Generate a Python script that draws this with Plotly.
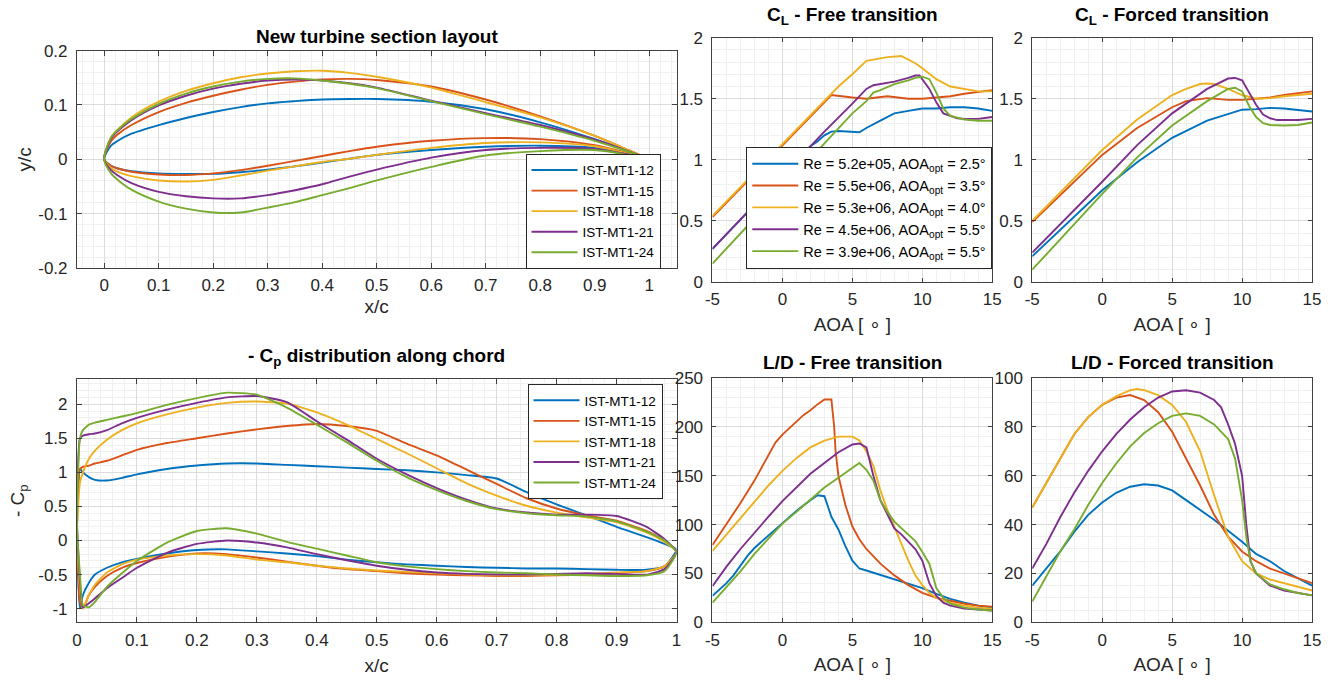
import plotly.graph_objects as go

# ---------------- common ----------------
colors = ['#0072BD', '#D95319', '#EDB120', '#7E2F8E', '#77AC30']
section_names = ['IST-MT1-12', 'IST-MT1-15', 'IST-MT1-18', 'IST-MT1-21', 'IST-MT1-24']
cl_legend = ['Re = 5.2e+05, AOA<sub>opt</sub> = 2.5°',
             'Re = 5.5e+06, AOA<sub>opt</sub> = 3.5°',
             'Re = 5.3e+06, AOA<sub>opt</sub> = 4.0°',
             'Re = 4.5e+06, AOA<sub>opt</sub> = 5.5°',
             'Re = 3.9e+06, AOA<sub>opt</sub> = 5.5°']

# ---------------- airfoil geometry ----------------
af_x = [0, 0.0125, 0.025, 0.05, 0.1, 0.15, 0.2, 0.25, 0.3, 0.35, 0.4, 0.45, 0.5, 0.6, 0.7, 0.8, 0.9, 0.95, 1.0]
af_up_12 = [0, 0.025, 0.034, 0.047, 0.063, 0.076, 0.087, 0.096, 0.103, 0.107, 0.110, 0.111, 0.111, 0.106, 0.092, 0.068, 0.037, 0.019, 0]
af_lo_12 = [0, -0.012, -0.017, -0.022, -0.026, -0.027, -0.027, -0.024, -0.019, -0.013, -0.006, 0.001, 0.008, 0.017, 0.023, 0.025, 0.021, 0.013, 0]
af_up_15 = [0, 0.033, 0.046, 0.063, 0.087, 0.104, 0.117, 0.128, 0.137, 0.143, 0.147, 0.148, 0.146, 0.134, 0.110, 0.079, 0.043, 0.022, 0]
af_lo_15 = [0, -0.012, -0.017, -0.023, -0.028, -0.029, -0.026, -0.020, -0.012, -0.003, 0.006, 0.015, 0.023, 0.034, 0.039, 0.037, 0.026, 0.014, 0]
af_up_18 = [0, 0.040, 0.055, 0.077, 0.106, 0.126, 0.140, 0.151, 0.158, 0.162, 0.163, 0.159, 0.152, 0.132, 0.105, 0.077, 0.043, 0.022, 0]
af_lo_18 = [0, -0.016, -0.023, -0.031, -0.039, -0.041, -0.038, -0.030, -0.021, -0.013, -0.005, 0.001, 0.008, 0.021, 0.030, 0.031, 0.024, 0.013, 0]
af_up_21 = [0, 0.038, 0.052, 0.072, 0.099, 0.117, 0.130, 0.139, 0.145, 0.147, 0.145, 0.140, 0.132, 0.108, 0.085, 0.063, 0.036, 0.019, 0]
af_lo_21 = [0, -0.020, -0.030, -0.044, -0.060, -0.068, -0.072, -0.072, -0.066, -0.057, -0.046, -0.032, -0.019, 0.003, 0.017, 0.021, 0.019, 0.011, 0]
af_up_24 = [0, 0.040, 0.054, 0.074, 0.102, 0.121, 0.134, 0.143, 0.148, 0.149, 0.145, 0.139, 0.131, 0.107, 0.083, 0.060, 0.034, 0.018, 0]
af_lo_24 = [0, -0.026, -0.038, -0.056, -0.078, -0.091, -0.098, -0.098, -0.089, -0.079, -0.066, -0.053, -0.039, -0.014, 0.007, 0.015, 0.017, 0.010, 0]

# ---------------- -Cp distribution ----------------
cp_x = [0, 0.005, 0.01, 0.02, 0.03, 0.05, 0.075, 0.1, 0.15, 0.2, 0.25, 0.3, 0.35, 0.4, 0.45,
        0.5, 0.55, 0.6, 0.65, 0.7, 0.75, 0.8, 0.85, 0.9, 0.95, 0.98, 1.0]
cp_up_12 = [0.1, 1.05, 1.0, 0.93, 0.89, 0.88, 0.92, 0.97, 1.05, 1.1, 1.13, 1.13, 1.11, 1.09, 1.07,
            1.05, 1.03, 1.0, 0.96, 0.91, 0.71, 0.53, 0.37, 0.2, 0.05, -0.05, -0.13]
cp_lo_12 = [0.1, -1.0, -0.8, -0.62, -0.5, -0.4, -0.32, -0.27, -0.19, -0.14, -0.13, -0.16, -0.19, -0.23, -0.28,
            -0.32, -0.35, -0.37, -0.39, -0.4, -0.41, -0.41, -0.42, -0.43, -0.43, -0.38, -0.13]
cp_up_15 = [0.1, 1.05, 1.08, 1.1, 1.13, 1.17, 1.25, 1.33, 1.43, 1.5, 1.57, 1.63, 1.68, 1.71, 1.68,
            1.61, 1.42, 1.25, 1.04, 0.83, 0.62, 0.47, 0.37, 0.29, 0.14, 0.0, -0.17]
cp_lo_15 = [0.1, -0.9, -1.0, -0.8, -0.68, -0.52, -0.4, -0.33, -0.24, -0.19, -0.2, -0.25, -0.31, -0.37, -0.42,
            -0.45, -0.48, -0.5, -0.51, -0.52, -0.52, -0.51, -0.5, -0.48, -0.45, -0.38, -0.17]
cp_up_18 = [0.1, 0.85, 1.0, 1.2, 1.32, 1.48, 1.62, 1.72, 1.85, 1.95, 2.02, 2.04, 2.01, 1.88, 1.7,
            1.49, 1.28, 1.06, 0.84, 0.66, 0.51, 0.41, 0.34, 0.27, 0.12, -0.02, -0.17]
cp_lo_18 = [0.1, -0.7, -1.0, -0.8, -0.65, -0.47, -0.35, -0.28, -0.22, -0.2, -0.22, -0.28, -0.32, -0.37, -0.41,
            -0.44, -0.46, -0.48, -0.5, -0.51, -0.51, -0.5, -0.49, -0.47, -0.45, -0.38, -0.17]
cp_up_21 = [0.3, 1.5, 1.54, 1.56, 1.57, 1.62, 1.72, 1.8, 1.92, 2.02, 2.1, 2.12, 2.03, 1.75, 1.48,
            1.2, 0.97, 0.77, 0.6, 0.47, 0.41, 0.38, 0.38, 0.36, 0.2, 0.02, -0.17]
cp_lo_21 = [0.3, -0.6, -0.98, -0.92, -0.85, -0.7, -0.55, -0.4, -0.18, -0.05, 0.0, -0.03, -0.1, -0.2, -0.29,
            -0.37, -0.43, -0.47, -0.49, -0.5, -0.5, -0.49, -0.48, -0.49, -0.5, -0.42, -0.17]
cp_up_24 = [0.3, 1.5, 1.62, 1.7, 1.73, 1.77, 1.82, 1.87, 1.99, 2.09, 2.17, 2.14, 1.95, 1.7, 1.44,
            1.17, 0.93, 0.74, 0.58, 0.46, 0.4, 0.37, 0.35, 0.28, 0.13, 0.0, -0.17]
cp_lo_24 = [0.3, -0.5, -0.95, -0.98, -0.9, -0.68, -0.48, -0.3, -0.03, 0.14, 0.18, 0.1, -0.02, -0.12, -0.22,
            -0.32, -0.38, -0.42, -0.45, -0.47, -0.48, -0.5, -0.51, -0.52, -0.51, -0.45, -0.17]

# ---------------- CL free transition ----------------
clf_a_12 = [-5, 2, 2.5, 3, 3.5, 4, 5.5, 6, 7, 8, 9, 10, 11, 12, 13, 14, 15]
clf_v_12 = [0.27, 1.11, 1.15, 1.2, 1.23, 1.235, 1.225, 1.26, 1.32, 1.38, 1.4, 1.42, 1.42, 1.43, 1.43, 1.42, 1.4]
clf_a_15 = [-5, 3.5, 5, 6, 7.5, 9, 10, 11, 12, 13, 15]
clf_v_15 = [0.53, 1.53, 1.51, 1.5, 1.52, 1.5, 1.5, 1.51, 1.52, 1.54, 1.57]
clf_a_18 = [-5, 3.5, 4, 5, 6, 6.5, 7, 7.5, 8.5, 9, 9.5, 10, 11, 12, 13, 14, 15]
clf_v_18 = [0.54, 1.54, 1.6, 1.7, 1.81, 1.82, 1.83, 1.84, 1.85, 1.82, 1.79, 1.75, 1.66, 1.6, 1.58, 1.56, 1.56]
clf_a_21 = [-5, 3, 5, 6, 6.5, 7, 8, 9, 9.5, 9.8, 10.5, 11, 11.5, 12.5, 13, 14, 15]
clf_v_21 = [0.27, 1.23, 1.46, 1.58, 1.61, 1.62, 1.64, 1.67, 1.69, 1.69, 1.58, 1.47, 1.38, 1.34, 1.335, 1.335, 1.35]
clf_a_24 = [-5, 3, 5, 6, 6.5, 7, 8, 9, 9.5, 10, 10.5, 11, 11.5, 12, 13, 14, 15]
clf_v_24 = [0.15, 1.13, 1.38, 1.48, 1.55, 1.57, 1.62, 1.65, 1.67, 1.68, 1.66, 1.55, 1.42, 1.36, 1.33, 1.32, 1.32]

# ---------------- CL forced transition ----------------
clt_a_12 = [-5, 0, 2.5, 5, 7.5, 10, 11, 12, 13, 14, 15]
clt_v_12 = [0.21, 0.75, 0.98, 1.18, 1.32, 1.41, 1.415, 1.425, 1.42, 1.41, 1.395]
clt_a_15 = [-5, 0, 2.5, 5, 6, 7.5, 9, 10, 11, 12, 13, 15]
clt_v_15 = [0.49, 1.04, 1.26, 1.43, 1.48, 1.505, 1.49, 1.49, 1.5, 1.51, 1.53, 1.56]
clt_a_18 = [-5, 0, 2.5, 5, 6, 7, 7.5, 8, 9, 10, 11, 12, 13, 15]
clt_v_18 = [0.5, 1.08, 1.33, 1.53, 1.58, 1.62, 1.625, 1.62, 1.58, 1.53, 1.5, 1.505, 1.52, 1.54]
clt_a_21 = [-5, 0, 2.5, 5, 7.5, 9, 9.5, 10, 10.5, 11, 11.5, 12, 12.5, 14, 15]
clt_v_21 = [0.24, 0.82, 1.12, 1.38, 1.58, 1.665, 1.67, 1.65, 1.55, 1.45, 1.37, 1.34, 1.325, 1.325, 1.335]
clt_a_24 = [-5, 0, 2.5, 5, 7.5, 9, 9.5, 10, 10.5, 11, 11.5, 12, 13, 14, 15]
clt_v_24 = [0.1, 0.72, 1.02, 1.28, 1.48, 1.58, 1.59, 1.56, 1.44, 1.35, 1.3, 1.285, 1.28, 1.285, 1.305]

# ---------------- L/D free transition ----------------
ldf_a_12 = [-5, -4, -3.5, -3, -2.5, -2, -1, 0, 1, 2, 2.5, 3, 3.25, 3.5, 4, 4.5, 5, 5.5, 6, 8, 10, 11, 12, 13, 14, 15]
ldf_v_12 = [27, 40, 48, 58, 68, 76, 89, 102, 114, 125, 130, 129, 118, 108, 95, 78, 63, 55, 53, 44, 35, 29, 24, 20, 17, 15]
ldf_a_15 = [-5, -4, -3, -2, -1, -0.5, 0, 1, 1.5, 2, 2.5, 3, 3.5, 3.7, 3.8, 4, 4.5, 5, 5.5, 6, 7, 8, 9, 10, 11, 12, 13, 14, 15]
ldf_v_15 = [79, 100, 122, 145, 172, 184, 192, 205, 212, 217, 223, 228, 228, 200, 175, 150, 120, 98, 85, 75, 60, 48, 38, 30, 25, 22, 19, 17, 16]
ldf_a_18 = [-5, -4, -3, -2, -1, 0, 1, 2, 3, 4, 5, 5.5, 6, 6.5, 7, 7.5, 8, 8.5, 9, 9.5, 10, 10.5, 11, 12, 13, 14, 15]
ldf_v_18 = [73, 90, 107, 124, 140, 155, 168, 179, 186, 190, 190, 186, 175, 160, 135, 115, 97, 80, 63, 48, 38, 30, 25, 20, 17, 15, 14]
ldf_a_21 = [-5, -4, -3, -2, -1, 0, 1, 2, 3, 4, 5, 5.5, 6, 6.5, 7, 7.5, 8, 8.5, 9, 9.5, 10, 10.5, 11, 11.5, 12, 13, 14, 15]
ldf_v_21 = [37, 57, 75, 92, 108, 124, 138, 152, 163, 174, 182, 183, 179, 150, 125, 110, 96, 90, 83, 75, 63, 40, 27, 20, 17, 14, 13, 12]
ldf_a_24 = [-5, -4, -3, -2, -1, 0, 1, 2, 3, 4, 5, 5.5, 6, 6.5, 7, 7.5, 8, 8.5, 9, 9.5, 10, 10.5, 11, 11.5, 12, 13, 14, 15]
ldf_v_24 = [20, 36, 52, 70, 86, 101, 113, 125, 138, 148, 158, 163, 156, 145, 125, 113, 103, 96, 90, 83, 72, 60, 35, 25, 19, 15, 13, 12]

# ---------------- L/D forced transition ----------------
ldt_a = [-5, -4, -3, -2, -1, 0, 1, 2, 3, 4, 5, 6, 7, 8, 9, 10, 11, 12, 13, 14, 15]
ldt_v_12 = [15, 22, 29, 37, 44, 49, 53, 55.5, 56.5, 56, 54, 50, 46, 42, 37.5, 33, 28, 25, 21, 18, 15]
ldt_v_15 = [47, 57, 67, 77, 84, 89, 92, 93, 91, 86, 78, 67, 56, 44, 35, 29, 25, 22, 20, 18, 16]
ldt_a_18 = [-5, -4, -3, -2, -1, 0, 1, 2, 2.5, 3, 4, 5, 6, 7, 8, 9, 10, 11, 12, 13, 14, 15]
ldt_v_18 = [47, 57, 67, 77, 84, 89, 92.5, 95, 95.5, 95, 93, 89, 82, 70, 52, 35, 25, 20, 17.5, 16, 14.5, 13]
ldt_a_21 = [-5, -4, -3, -2, -1, 0, 1, 2, 3, 4, 5, 6, 7, 8, 8.5, 9, 9.5, 10, 10.3, 10.6, 11, 12, 13, 14, 15]
ldt_v_21 = [22, 32, 43, 53, 62, 70, 77, 83, 88, 92, 94.5, 95, 94, 91, 88, 81, 73, 60, 40, 25, 20, 15, 13, 12, 11]
ldt_a_24 = [-5, -4, -3, -2, -1, 0, 1, 2, 3, 4, 5, 6, 7, 8, 9, 9.5, 10, 10.3, 10.6, 11, 12, 13, 14, 15]
ldt_v_24 = [8.5, 19, 29, 38, 48, 57, 65, 72, 77.5, 81.5, 84.5, 85.5, 84.5, 81, 75, 67, 50, 35, 25, 20, 15.5, 13.5, 12, 11]

# ---------------- tick labels ----------------
xc_ticks = [0, 0.1, 0.2, 0.3, 0.4, 0.5, 0.6, 0.7, 0.8, 0.9, 1]
xc_text = ['0', '0.1', '0.2', '0.3', '0.4', '0.5', '0.6', '0.7', '0.8', '0.9', '1']
yc_ticks = [-0.2, -0.1, 0, 0.1, 0.2]
yc_text = ['-0.2', '-0.1', '0', '0.1', '0.2']
cp_ticks = [-1, -0.5, 0, 0.5, 1, 1.5, 2]
cp_text = ['-1', '-0.5', '0', '0.5', '1', '1.5', '2']
aoa_ticks = [-5, 0, 5, 10, 15]
aoa_text = ['-5', '0', '5', '10', '15']
cl_ticks = [0, 0.5, 1, 1.5, 2]
cl_text = ['0', '0.5', '1', '1.5', '2']
ldf_ticks = [0, 50, 100, 150, 200, 250]
ldf_text = ['0', '50', '100', '150', '200', '250']
ldt_ticks = [0, 20, 40, 60, 80, 100]
ldt_text = ['0', '20', '40', '60', '80', '100']

# ---------------- build ----------------
W, H = 1336, 680
FONT = 'Liberation Sans, Arial, sans-serif'
TXT = '#262626'
LW = 1.9

# the captured page is slightly rescaled; map wanted screen pixels to layout pixels
SX, OX = 0.988, 8.0
SY, OY = 0.971, 8.4


def fx(p):
    return ((p - OX) / SX) / W


def fy(p):
    return 1 - ((p - OY) / SY) / H


def px_x(a, b):
    return [fx(a), fx(b)]


def px_y(top, bottom):
    return [fy(bottom), fy(top)]


fig = go.Figure()

af_up = [af_up_12, af_up_15, af_up_18, af_up_21, af_up_24]
af_lo = [af_lo_12, af_lo_15, af_lo_18, af_lo_21, af_lo_24]
for i in range(5):
    fig.add_trace(go.Scatter(
        x=af_x[::-1] + af_x[1:], y=af_up[i][::-1] + af_lo[i][1:],
        mode='lines', line=dict(color=colors[i], width=LW, shape='spline', smoothing=0.8),
        name=section_names[i], legend='legend', xaxis='x', yaxis='y'))

cp_up = [cp_up_12, cp_up_15, cp_up_18, cp_up_21, cp_up_24]
cp_lo = [cp_lo_12, cp_lo_15, cp_lo_18, cp_lo_21, cp_lo_24]
for i in range(5):
    fig.add_trace(go.Scatter(
        x=cp_x[::-1] + cp_x[1:], y=cp_up[i][::-1] + cp_lo[i][1:],
        mode='lines', line=dict(color=colors[i], width=LW, shape='spline', smoothing=0.5),
        name=section_names[i], legend='legend2', xaxis='x2', yaxis='y2'))

clf = [(clf_a_12, clf_v_12), (clf_a_15, clf_v_15), (clf_a_18, clf_v_18), (clf_a_21, clf_v_21), (clf_a_24, clf_v_24)]
for i, (a, v) in enumerate(clf):
    fig.add_trace(go.Scatter(x=a, y=v, mode='lines', line=dict(color=colors[i], width=LW),
                             name=cl_legend[i], legend='legend3', xaxis='x3', yaxis='y3'))

clt = [(clt_a_12, clt_v_12), (clt_a_15, clt_v_15), (clt_a_18, clt_v_18), (clt_a_21, clt_v_21), (clt_a_24, clt_v_24)]
for i, (a, v) in enumerate(clt):
    fig.add_trace(go.Scatter(x=a, y=v, mode='lines', line=dict(color=colors[i], width=LW),
                             showlegend=False, xaxis='x4', yaxis='y4'))

ldf = [(ldf_a_12, ldf_v_12), (ldf_a_15, ldf_v_15), (ldf_a_18, ldf_v_18), (ldf_a_21, ldf_v_21), (ldf_a_24, ldf_v_24)]
for i, (a, v) in enumerate(ldf):
    fig.add_trace(go.Scatter(x=a, y=v, mode='lines', line=dict(color=colors[i], width=LW),
                             showlegend=False, xaxis='x5', yaxis='y5'))

ldt = [(ldt_a, ldt_v_12), (ldt_a, ldt_v_15), (ldt_a_18, ldt_v_18), (ldt_a_21, ldt_v_21), (ldt_a_24, ldt_v_24)]
for i, (a, v) in enumerate(ldt):
    fig.add_trace(go.Scatter(x=a, y=v, mode='lines', line=dict(color=colors[i], width=LW),
                             showlegend=False, xaxis='x6', yaxis='y6'))


def axis(domain, rng, tv, tt, minor_dt, anchor, title=None, standoff=4, ticklen=5, lstand=2):
    d = dict(domain=domain, range=rng, tickmode='array', tickvals=tv, ticktext=tt,
             showline=True, linecolor='#404040', linewidth=1, mirror='ticks',
             ticks='inside', ticklen=ticklen, tickcolor='#404040', tickwidth=1,
             showgrid=True, gridcolor='#DCDCDC', gridwidth=1, zeroline=False,
             minor=dict(dtick=minor_dt, tick0=0, showgrid=True, gridcolor='#F0F0F0', ticks=''),
             tickfont=dict(family=FONT, size=17, color=TXT), ticklabelstandoff=lstand,
             anchor=anchor, fixedrange=True)
    if title:
        d['title'] = dict(text=title, font=dict(family=FONT, size=19, color=TXT), standoff=standoff)
    return d


AOA = 'AOA [ ∘ ]'
lay = dict(
    width=W, height=H, margin=dict(l=0, r=0, t=0, b=0),
    paper_bgcolor='white', plot_bgcolor='white',
    xaxis=axis(px_x(77, 677), [-0.05, 1.05], xc_ticks, xc_text, 0.02, 'y', 'x/c', standoff=5),
    yaxis=axis(px_y(50, 267), [-0.2, 0.2], yc_ticks, yc_text, 0.02, 'x', 'y/c', standoff=1, lstand=5),
    xaxis2=axis(px_x(77, 677), [0, 1], xc_ticks, xc_text, 0.02, 'y2', 'x/c', standoff=10),
    yaxis2=axis(px_y(378, 621), [-1.2, 2.37], cp_ticks, cp_text, 0.1, 'x2', '- C<sub>p</sub>', standoff=8, lstand=5),
    xaxis3=axis(px_x(713, 993), [-5, 15], aoa_ticks, aoa_text, 1, 'y3', AOA, standoff=9, ticklen=4),
    yaxis3=axis(px_y(37, 281), [0, 2], cl_ticks, cl_text, 0.1, 'x3', ticklen=4, lstand=5),
    xaxis4=axis(px_x(1033, 1313), [-5, 15], aoa_ticks, aoa_text, 1, 'y4', AOA, standoff=9, ticklen=4),
    yaxis4=axis(px_y(37, 281), [0, 2], cl_ticks, cl_text, 0.1, 'x4', ticklen=4, lstand=5),
    xaxis5=axis(px_x(713, 993), [-5, 15], aoa_ticks, aoa_text, 1, 'y5', AOA, standoff=9, ticklen=4),
    yaxis5=axis(px_y(377, 621), [0, 250], ldf_ticks, ldf_text, 10, 'x5', ticklen=4, lstand=5),
    xaxis6=axis(px_x(1033, 1313), [-5, 15], aoa_ticks, aoa_text, 1, 'y6', AOA, standoff=9, ticklen=4),
    yaxis6=axis(px_y(377, 621), [0, 100], ldt_ticks, ldt_text, 5, 'x6', ticklen=4, lstand=5),
    legend=dict(x=fx(661), y=fy(153), xanchor='right', yanchor='top',
                bgcolor='white', bordercolor='#262626', borderwidth=1,
                font=dict(family=FONT, size=13.5, color='black'), tracegroupgap=0,
                itemwidth=46),
    legend2=dict(x=fx(663), y=fy(383), xanchor='right', yanchor='top',
                 bgcolor='white', bordercolor='#262626', borderwidth=1,
                 font=dict(family=FONT, size=13.5, color='black'), tracegroupgap=0,
                 itemwidth=46),
    legend3=dict(x=fx(993), y=fy(146), xanchor='right', yanchor='top',
                 bgcolor='white', bordercolor='#262626', borderwidth=1,
                 font=dict(family=FONT, size=14.5, color='black'), tracegroupgap=0,
                 itemwidth=46),
    showlegend=True,
)
fig.update_layout(**lay)

titles = [
    ('<b>New turbine section layout</b>', 377, 36),
    ('<b>- C<sub>p</sub> distribution along chord</b>', 377, 356),
    ('<b>C<sub>L</sub> - Free transition</b>', 853, 15),
    ('<b>C<sub>L</sub> - Forced transition</b>', 1173, 15),
    ('<b>L/D - Free transition</b>', 853, 362),
    ('<b>L/D - Forced transition</b>', 1173, 362),
]
for t, cx, cy in titles:
    fig.add_annotation(text=t, x=fx(cx), y=fy(cy), xref='paper', yref='paper',
                       xanchor='center', yanchor='middle', showarrow=False,
                       font=dict(family=FONT, size=19, color='black'))

fig.write_html('out.html')
